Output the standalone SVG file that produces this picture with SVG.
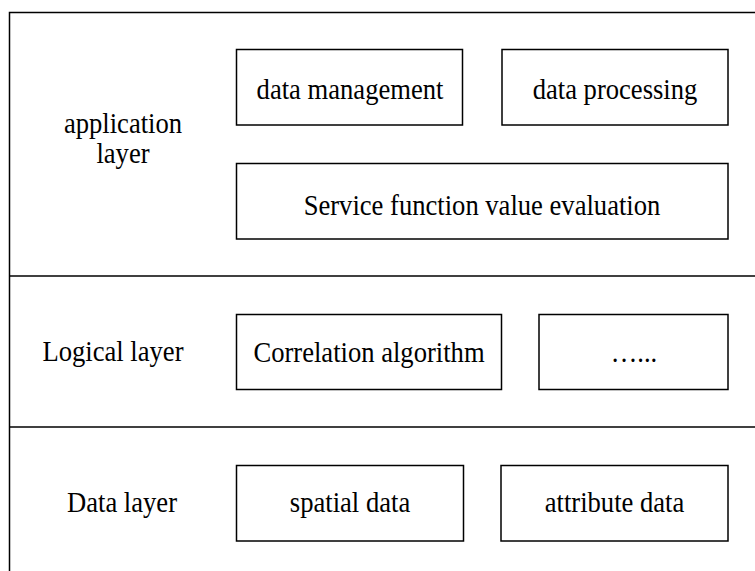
<svg xmlns="http://www.w3.org/2000/svg" width="755" height="571" viewBox="0 0 755 571">
<style>
.frame{fill:none;stroke:#000;stroke-width:1.5}
.box{fill:#fff;stroke:#000;stroke-width:1.5}
.t{font-family:"Liberation Serif","Times New Roman",serif;font-size:26.6px;fill:#000;text-anchor:middle}
</style>
<rect width="755" height="571" fill="#fff"/>
<g id="frame">
<rect class="frame" x="9.5" y="12.5" width="800" height="620"/>
<line class="frame" x1="9.5" y1="276" x2="755" y2="276"/>
<line class="frame" x1="9.5" y1="427" x2="755" y2="427"/>
</g>
<g id="connectors"></g>
<g id="application-layer-label"><text class="t" transform="translate(123,133) scale(1,1.13)">application</text><text class="t" transform="translate(123,163) scale(1,1.13)">layer</text></g>
<g id="data-management"><rect class="box" x="236.5" y="49.5" width="226" height="75.5"/><text class="t" transform="translate(350,99) scale(1,1.13)">data management</text></g>
<g id="data-processing"><rect class="box" x="502" y="49.5" width="226" height="75.5"/><text class="t" transform="translate(615,99) scale(1,1.13)">data processing</text></g>
<g id="service-eval"><rect class="box" x="236.5" y="163.5" width="491.5" height="75.5"/><text class="t" transform="translate(482,215) scale(1,1.13)">Service function value evaluation</text></g>
<g id="logical-layer-label"><text class="t" transform="translate(113,361) scale(1,1.13)">Logical layer</text></g>
<g id="correlation"><rect class="box" x="236.5" y="314.5" width="265" height="75"/><text class="t" transform="translate(369,362) scale(1,1.13)">Correlation algorithm</text></g>
<g id="more"><rect class="box" x="539" y="314.5" width="189" height="75"/><text class="t" transform="translate(634,362) scale(1,1.13)">…...</text></g>
<g id="data-layer-label"><text class="t" transform="translate(122,512) scale(1,1.13)">Data layer</text></g>
<g id="spatial-data"><rect class="box" x="236.5" y="465.5" width="227" height="75.5"/><text class="t" transform="translate(350,512) scale(1,1.13)">spatial data</text></g>
<g id="attribute-data"><rect class="box" x="501" y="465.5" width="227" height="75.5"/><text class="t" transform="translate(614.5,512) scale(1,1.13)">attribute data</text></g>
</svg>
